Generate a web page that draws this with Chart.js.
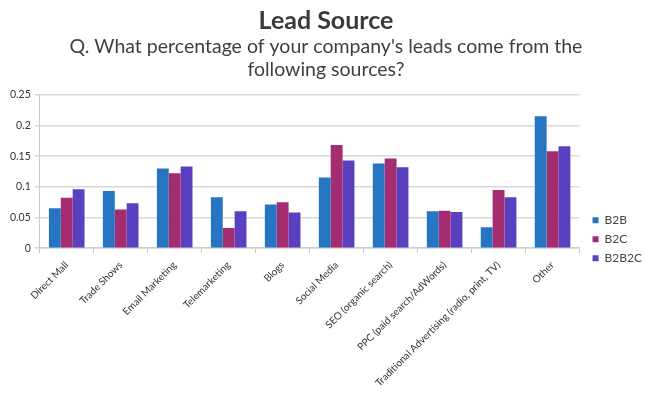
<!DOCTYPE html>
<html>
<head>
<meta charset="utf-8">
<script src="https://cdn.jsdelivr.net/npm/chart.js@4"></script>
<style>
  html, body { margin: 0; padding: 0; background: #ffffff; }
  #wrap { position: relative; width: 650px; height: 395px; }
</style>
</head>
<body>
<div id="wrap"><canvas id="c"></canvas></div>
<script>
const categories = ["Direct Mall", "Trade Shows", "Email Marketing", "Telemarketing", "Blogs", "Social Media", "SEO (organic search)", "PPC (paid search/AdWords)", "Traditional Advertising (radio, print, TV)", "Other"];
const b2b   = [0.065, 0.093, 0.130, 0.083, 0.071, 0.115, 0.138, 0.060, 0.034, 0.215];
const b2c   = [0.082, 0.063, 0.122, 0.033, 0.075, 0.168, 0.146, 0.061, 0.095, 0.158];
const b2b2c = [0.096, 0.073, 0.133, 0.060, 0.058, 0.143, 0.132, 0.059, 0.083, 0.166];
const seriesNames = ["B2B", "B2C", "B2B2C"];
const yTicks = [0, 0.05, 0.1, 0.15, 0.2, 0.25];
const titleText = "Lead Source";
const subtitleLines = ["Q. What percentage of your company's leads come from the", "following sources?"];

const colors = ["#2575c2", "#a32d70", "#5a40c0"];
const FONT = "Lato, 'Open Sans', sans-serif";

const legendShift = {
  id: 'legendShift',
  afterLayout(chart) {
    const lg = chart.legend;
    if (lg) { lg.top += 23; lg.bottom += 23; lg.left += 6; lg.right += 6; }
  }
};

new Chart(document.getElementById('c'), {
  type: 'bar',
  data: {
    labels: categories,
    datasets: [
      { label: seriesNames[0], data: b2b, backgroundColor: colors[0] },
      { label: seriesNames[1], data: b2c, backgroundColor: colors[1] },
      { label: seriesNames[2], data: b2b2c, backgroundColor: colors[2] }
    ]
  },
  options: {
    responsive: true,
    maintainAspectRatio: false,
    animation: false,
    layout: { padding: { left: 6, right: 4, top: 2, bottom: 0 } },
    datasets: { bar: { barPercentage: 1.0, categoryPercentage: 0.66, borderWidth: 0 } },
    plugins: {
      title: {
        display: true, text: titleText, color: '#3a3a3a',
        font: { family: FONT, size: 25, weight: 'bold' },
        padding: { top: 4, bottom: 0 }
      },
      subtitle: {
        display: true, text: subtitleLines, color: '#3f3f3f',
        font: { family: FONT, size: 19.5, weight: 'normal', lineHeight: 1.15 },
        padding: { top: 0, bottom: 14 }
      },
      legend: {
        display: true, position: 'right', align: 'end', fullSize: false,
        labels: {
          boxWidth: 6, boxHeight: 6, padding: 7, color: '#444',
          font: { family: FONT, size: 12 }
        }
      },
      tooltip: { enabled: false }
    },
    scales: {
      x: {
        grid: { display: true, drawOnChartArea: false, drawTicks: true, tickLength: 5, color: '#c8c8c8', offset: true },
        border: { display: true, color: '#cfcfcf', width: 1.5 },
        ticks: {
          color: '#333', maxRotation: 45, minRotation: 45, autoSkip: false, padding: 6,
          font: { family: FONT, size: 10 }
        }
      },
      y: {
        min: 0, max: 0.25,
        afterBuildTicks(axis) { axis.ticks = yTicks.map(v => ({ value: v })); },
        grid: { color: '#d9d9d9', lineWidth: 1.5, drawTicks: true, tickLength: 5 },
        border: { display: true, color: '#c8c8c8', width: 1 },
        ticks: {
          color: '#333', padding: 4,
          font: { family: FONT, size: 10.5 },
          callback: v => String(v)
        }
      }
    }
  },
  plugins: [legendShift]
});
</script>
</body>
</html>
